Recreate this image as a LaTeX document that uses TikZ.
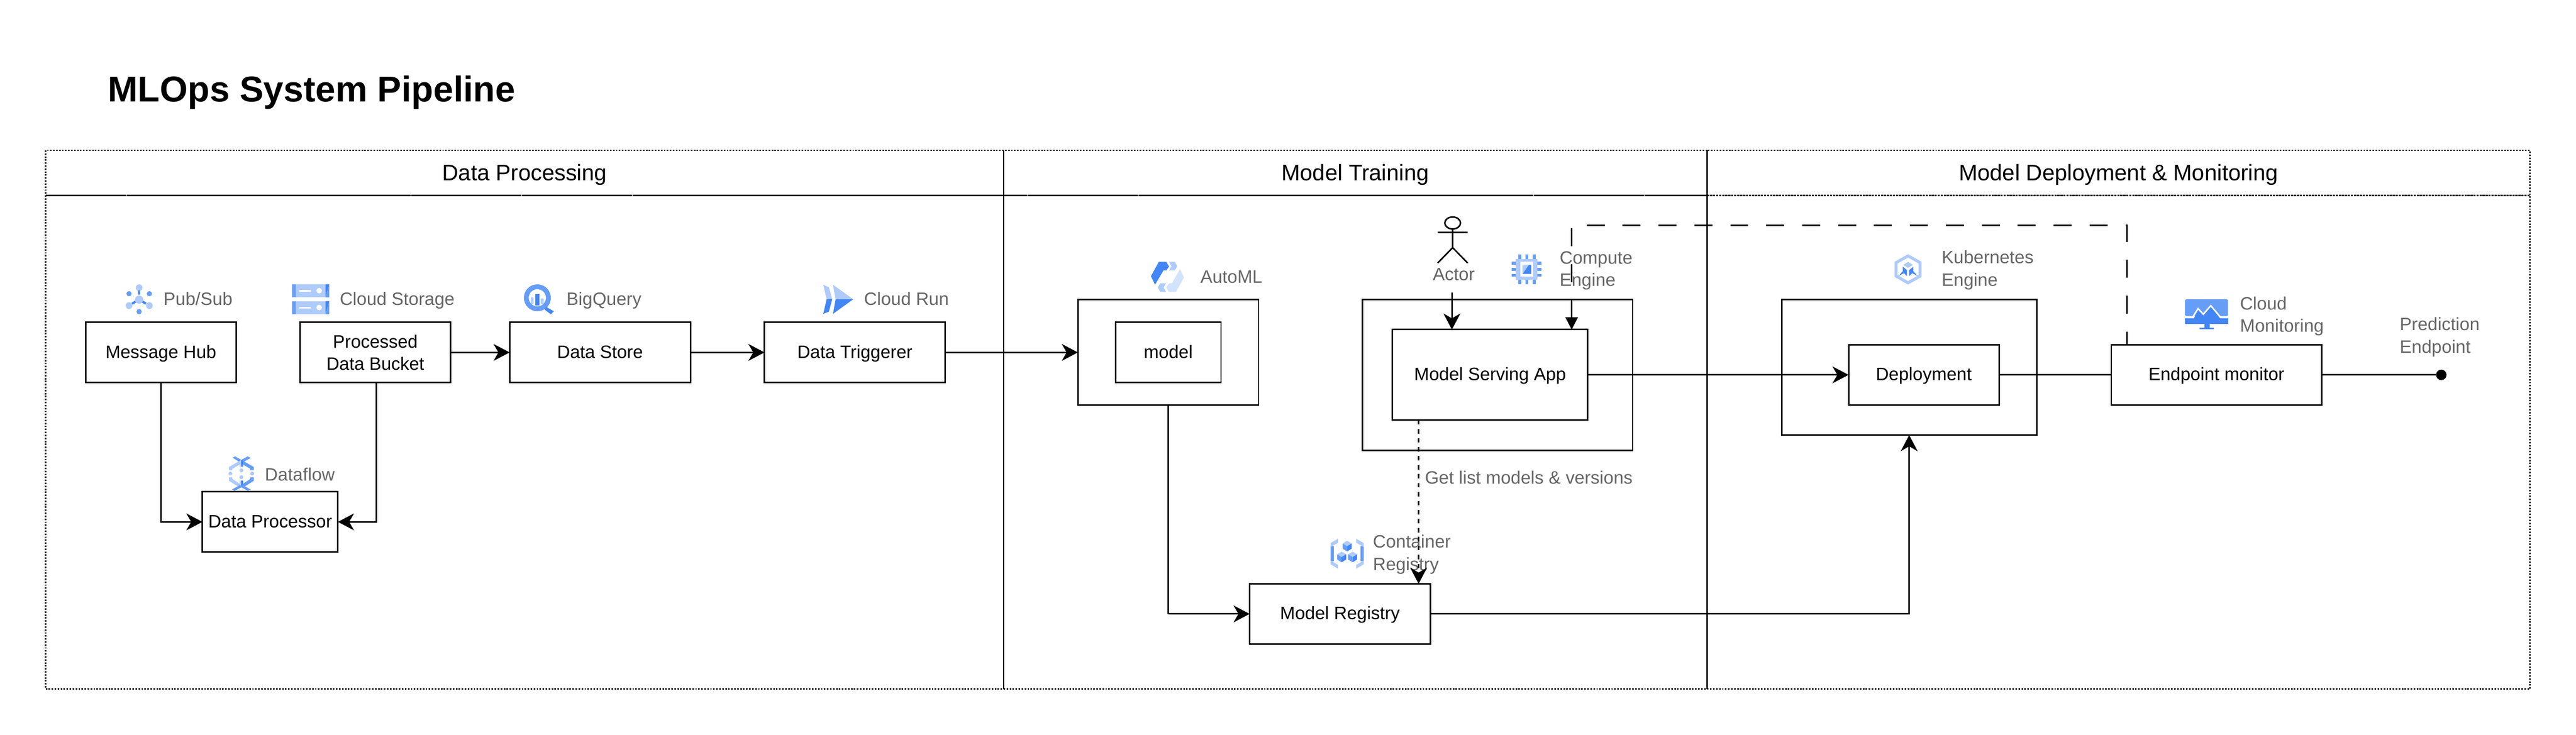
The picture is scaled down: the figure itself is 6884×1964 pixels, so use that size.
\documentclass[tikz,border=0pt]{standalone}
\usepackage{fontspec}
\setmainfont{Liberation Sans}
\usetikzlibrary{positioning, arrows.meta}

\definecolor{gdark}{HTML}{4285F4}
\definecolor{gmid}{HTML}{669DF6}
\definecolor{glight}{HTML}{AECBFA}
\definecolor{gpale}{HTML}{D2E3FC}
\definecolor{txtgray}{HTML}{666666}

\tikzset{
	box/.style={rectangle, draw, line width=1pt, outer sep=0pt, inner sep=0pt, minimum height=40.25pt, font=\fontsize{12}{14.9}\selectfont, text height=10pt, text depth=2.5pt},
	twobox/.style={box, text height=, text depth=, align=center},
	lane/.style={rectangle, draw, line width=1pt, dash pattern=on 1pt off 1pt, outer sep=0pt, inner sep=0pt},
	lanehead/.style={lane, minimum height=30pt, font=\fontsize{15}{18}\selectfont, text height=14pt, text depth=3.5pt},
	lbl/.style={anchor=west, inner sep=0pt, outer sep=0pt, text=txtgray, font=\fontsize{12}{14.9}\selectfont, text height=10pt, text depth=2.5pt},
	twolbl/.style={anchor=west, inner sep=0pt, outer sep=0pt, text=txtgray, font=\fontsize{12}{14.9}\selectfont, align=left},
	arr/.style={-{Stealth[length=10.75pt, width=11.25pt, inset=3.25pt]}, line width=1pt},
	tri/.style={-{Triangle[length=8.25pt, width=8.25pt]}, line width=1pt},
	wire/.style={line width=1pt},
	zoomed/.style={x=0.08333pt, y=-0.08333pt}
}

\begin{document}
\begin{tikzpicture}[x=0.25pt, y=-0.25pt]
	\useasboundingbox (0,0) rectangle (6884,1964);

	\node[anchor=base west, inner sep=0pt, font=\fontsize{24}{29}\bfseries\selectfont] (title) at (288,272) {MLOps System Pipeline};

	\node[lanehead, minimum width=640pt] (hdata) at (1402,462) {Data Processing};
	\node[lanehead, minimum width=470pt, right=0pt of hdata] (htrain) {Model Training};
	\node[lanehead, minimum width=549.75pt, right=0pt of htrain] (hdeploy) {Model Deployment \& Monitoring};
	\node[lane, minimum width=640pt, minimum height=330pt, below=0pt of hdata] (bdata) {};
	\node[lane, minimum width=470pt, minimum height=330pt, below=0pt of htrain] (btrain) {};
	\node[lane, minimum width=549.75pt, minimum height=330pt, below=0pt of hdeploy] (bdeploy) {};
	\draw[wire] (hdata.north east) -- (bdata.south east);
	\draw[wire] (htrain.north east) -- (btrain.south east);

	\node[box, minimum width=100.5pt] (hub) at (430,942) {Message Hub};
	\node[twobox, minimum width=100.5pt, right=42.75pt of hub] (bkt) {Processed\\Data Bucket};
	\node[box, minimum width=90.5pt] (dproc) at (722,1395) {Data Processor};
	\node[box, minimum width=120.75pt, right=39.5pt of bkt] (store) {Data Store};
	\node[box, minimum width=120.75pt, right=49.5pt of store] (trig) {Data Triggerer};

	\node[box, minimum width=120.75pt, minimum height=70.5pt] (mdlo) at (3122,942) {};
	\node[box, minimum width=70.5pt] (mdl) at (mdlo) {model};
	\node[box, minimum width=180.5pt, minimum height=100.75pt] (srvo) at (4002,1002) {};
	\node[box, minimum width=130.5pt, minimum height=60.5pt] (srv) at (3982,1002) {Model Serving App};
	\node[box, minimum width=120.75pt] (reg) at (3581,1641) {Model Registry};

	\node[box, minimum width=170.5pt, minimum height=90.5pt] (gke) at (5102,982) {};
	\node[box, minimum width=100.5pt] (dep) at (5141,1002) {Deployment};
	\node[box, minimum width=140.5pt, right=75pt of dep] (emon) {Endpoint monitor};
	\node[circle, fill, inner sep=0pt, outer sep=0pt, minimum size=7pt, right=76.5pt of emon] (pep) {};

	\node[lbl] (lpubsub) at (437,801) {Pub/Sub};
	\node[lbl] (lgcs) at (908,801) {Cloud Storage};
	\node[lbl] (lflow) at (708,1270) {Dataflow};
	\node[lbl] (lbq) at (1514,801) {BigQuery};
	\node[lbl] (lrun) at (2309,801) {Cloud Run};
	\node[lbl] (lauto) at (3208,742) {AutoML};
	\node[lbl, anchor=center] (lactor) at (3885,735) {Actor};
	\node[twolbl] (lgce) at (4168,723) {Compute\\Engine};
	\node[twolbl] (lgke) at (5189,722) {Kubernetes\\Engine};
	\node[twolbl] (lmon) at (5986,845) {Cloud\\Monitoring};
	\node[twolbl] (lpep) at (6413,901) {Prediction\\Endpoint};
	\node[lbl] (llist) at (3808,1279) {Get list models \& versions};
	\node[twolbl] (lcr) at (3669,1482) {Container\\Registry};

	\fill[glight] (371.8,769) circle (9);
	\fill[glight] (371.8,801) circle (11);
	\fill[gdark] (369,777) rectangle (375,787);
	\fill[gmid] (344.8,785) circle (7) (399.2,785) circle (7) (371.8,833) circle (7);
	\draw[gdark, line width=1.5pt] (353,812) -- (362,806) (381,806) -- (390,812);
	\fill[glight] (344.8,817) circle (9) (399.2,817) circle (9);

	\foreach \ypos in {760,805} {
		\fill[glight] (790,\ypos) rectangle (870,\ypos+35);
		\fill[gmid] (780,\ypos) rectangle (790,\ypos+35);
		\fill[gdark] (870,\ypos) -- (880,\ypos) -- (870,\ypos+35) -- cycle;
		\fill[gmid] (880,\ypos) -- (880,\ypos+35) -- (870,\ypos+35) -- cycle;
		\fill[white] (800,\ypos+15) rectangle (830,\ypos+20);
		\fill[white] (853,\ypos+17) circle (7.5);
	}

	\begin{scope}[shift={(600,1210)}, zoomed]
		\fill[gmid] (65,40) -- (85,30) -- (135,58) -- (185,30) -- (210,42) -- (150,75) -- (120,75) -- cycle;
		\fill[glight] (35,115) -- (122,65) -- (122,95) -- (62,130) -- (62,140) -- (35,140) -- cycle;
		\fill[gmid] (235,115) -- (148,65) -- (148,95) -- (208,130) -- (208,140) -- (235,140) -- cycle;
		\fill[glight] (122,62) rectangle (135,110);
		\fill[gdark] (135,62) rectangle (148,110);
		\fill[glight] (47,168) circle (16) (222,168) circle (16) (135,142) circle (16) (135,197) circle (16);
		\fill[glight] (35,197) -- (62,197) -- (62,210) -- (122,250) -- (122,280) -- (35,225) -- cycle;
		\fill[gmid] (235,197) -- (208,197) -- (208,210) -- (148,250) -- (148,280) -- (235,225) -- cycle;
		\fill[glight] (122,222) rectangle (135,275);
		\fill[gdark] (135,222) rectangle (148,275);
		\fill[gmid] (60,295) -- (120,262) -- (150,262) -- (208,295) -- (188,306) -- (135,278) -- (80,306) -- cycle;
	\end{scope}

	\fill[gmid, even odd rule] (1436,796) circle (36) (1436,796) circle (23);
	\fill[gdark] (1431,786) rectangle (1441,816);
	\fill[glight] (1419,795) rectangle (1426,812) (1445,798) rectangle (1453,812);
	\fill[gdark] (1459,820) -- (1480,832) -- (1472,840) -- (1456,828) -- cycle;

	\fill[glight] (2200,761) -- (2215,768) -- (2224,800) -- (2209,800) -- cycle;
	\fill[gdark] (2209,800) -- (2224,800) -- (2215,833) -- (2200,839) -- cycle;
	\fill[glight] (2226,761) -- (2280,800) -- (2233,800) -- cycle;
	\fill[gdark] (2233,800) -- (2280,800) -- (2226,839) -- cycle;

	\begin{scope}[shift={(3060,680)}, zoomed]
		\fill[gdark] (110,60) -- (170,60) -- (192,97) -- (170,128) -- (148,128) -- (80,243) -- (47,175) -- cycle;
		\fill[glight] (192,60) -- (238,60) -- (258,95) -- (238,128) -- (192,128) -- (212,95) -- cycle;
		\fill[gpale] (280,118) -- (312,185) -- (248,300) -- (190,300) -- (170,265) -- (192,232) -- (215,232) -- cycle;
		\fill[glight] (122,232) -- (168,232) -- (148,265) -- (168,300) -- (122,300) -- (102,265) -- cycle;
	\end{scope}

	\draw[wire] (3882,596) ellipse (21 and 16);
	\draw[wire] (3882,612) -- (3882,662) (3842,621) -- (3922,621) (3842,703) -- (3882,662) -- (3922,703);
	\coordinate (actorfoot) at (3880,782);

	\foreach \xpos in {4057,4076,4096} {
		\fill[gmid] (\xpos,680) rectangle (\xpos+8,692);
		\fill[gmid] (\xpos,748) rectangle (\xpos+8,760);
	}
	\foreach \ypos in {700,716,732} {
		\fill[gmid] (4040,\ypos) rectangle (4051,\ypos+8);
		\fill[gmid] (4109,\ypos) rectangle (4120,\ypos+8);
	}
	\fill[glight] (4051,692) rectangle (4109,748);
	\fill[white] (4063,700) rectangle (4097,740);
	\fill[glight] (4069,708) rectangle (4092,732);
	\fill[gdark] (4086,708) -- (4092,708) -- (4092,732) -- (4069,732) -- cycle;

	\begin{scope}[shift={(3540,1430)}, zoomed]
		\fill[gmid] (47,90) rectangle (73,210) (287,90) rectangle (313,210);
		\fill[glight] (47,65) -- (107,30) -- (107,62) -- (47,97) -- cycle;
		\fill[glight] (47,205) -- (107,240) -- (107,270) -- (47,235) -- cycle;
		\fill[glight] (313,65) -- (253,30) -- (253,62) -- (313,97) -- cycle;
		\fill[glight] (313,205) -- (253,240) -- (253,270) -- (313,235) -- cycle;
		\foreach \xpos/\ypos in {180/90,136/177,224/177} {
			\fill[glight] (\xpos,\ypos-43) -- (\xpos+36,\ypos-22) -- (\xpos,\ypos) -- (\xpos-36,\ypos-22) -- cycle;
			\fill[gmid] (\xpos-36,\ypos-22) -- (\xpos,\ypos) -- (\xpos,\ypos+42) -- (\xpos-36,\ypos+20) -- cycle;
			\fill[gdark] (\xpos+36,\ypos-22) -- (\xpos,\ypos) -- (\xpos,\ypos+42) -- (\xpos+36,\ypos+20) -- cycle;
		}
	\end{scope}

	\draw[glight, line width=2pt] (5099,684) -- (5131,702) -- (5131,738) -- (5099,756) -- (5067,738) -- (5067,702) -- cycle;
	\fill[glight] (5099,700) -- (5112,708) -- (5099,716) -- (5086,708) -- cycle;
	\fill[gdark] (5085,713) -- (5096,722) -- (5096,738) -- (5088,730) -- (5073,738) -- (5085,725) -- cycle;
	\fill[gdark] (5113,713) -- (5102,722) -- (5102,738) -- (5110,730) -- (5125,738) -- (5113,725) -- cycle;

	\fill[gmid, rounded corners=1pt] (5839,800) rectangle (5954,845);
	\fill[gdark] (5839,851) rectangle (5954,866);
	\fill[gdark] (5863,851) -- (5874,827) -- (5888,842) -- (5908,819) -- (5933,851) -- cycle;
	\draw[white, line width=1pt] (5839,847) -- (5860,847) -- (5874,825) -- (5888,840) -- (5908,817) -- (5933,847) -- (5954,847);
	\fill[gdark] (5891,866) rectangle (5905,876) (5878,876) rectangle (5916,880);

	\draw[arr] (hub.south) |- (dproc.west);
	\draw[arr] ([xshift=0.75pt]bkt.south) |- (dproc.east);
	\draw[arr] (bkt) -- (store);
	\draw[arr] (store) -- (trig);
	\draw[arr] (trig) -- (mdlo);
	\draw[wire] (mdlo.south) -- (mdlo.south |- reg.west);
	\draw[arr] (mdlo.south |- reg.west) -- (reg.west);
	\draw[arr] (reg.east) -| (gke.south);
	\draw[arr] (srv.east) -- (dep.west);
	\draw[wire] (dep.east) -- (emon.west);
	\draw[wire] (emon.east) -- (pep.west);
	\draw[arr] (actorfoot) -- (actorfoot |- srv.north);
	\draw[arr, dashed] ([xshift=-47.75pt]srv.south) -- ([xshift=52.5pt]reg.north);
	\draw[tri, dash pattern=on 12pt off 12pt, dash phase=3.25pt] ([xshift=-59.75pt]emon.north) -- ++(0,-319) -| ([xshift=54.5pt]srv.north);
\end{tikzpicture}
\end{document}
